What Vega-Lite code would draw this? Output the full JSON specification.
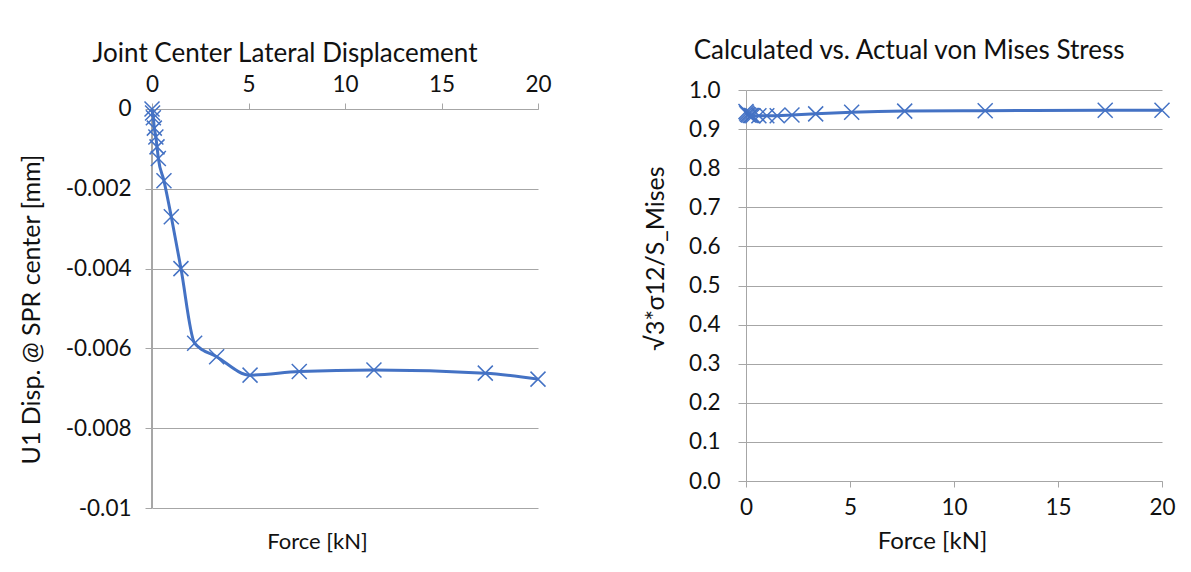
{
  "$schema": "https://vega.github.io/schema/vega-lite/v6.json",
  "background": "white",
  "padding": {"left": 19, "top": 38, "right": 0, "bottom": 0},
  "spacing": 91,
  "config": {
    "font": "Lato",
    "view": {"stroke": null},
    "axis": {
      "labelFont": "Lato", "titleFont": "Lato",
      "labelColor": "#111", "titleColor": "#111",
      "labelFontWeight": "normal", "titleFontWeight": "normal",
      "domainColor": "#a6a6a6", "tickColor": "#a6a6a6", "gridColor": "#a6a6a6",
      "labelFontSize": 22.5, "titleFontSize": 22
    },
    "title": {"font": "Lato", "fontWeight": "normal", "color": "#111", "fontSize": 26, "frame": "bounds", "anchor": "middle"}
  },
  "data": {"values": [
    {"force": 0, "u1": 0, "ratio": 0.945},
    {"force": 0.03, "u1": -0.0001, "ratio": 0.941},
    {"force": 0.07, "u1": -0.00022, "ratio": 0.938},
    {"force": 0.12, "u1": -0.00048, "ratio": 0.936},
    {"force": 0.2, "u1": -0.0007, "ratio": 0.935},
    {"force": 0.26, "u1": -0.00095, "ratio": 0.935},
    {"force": 0.33, "u1": -0.00124, "ratio": 0.934},
    {"force": 0.62, "u1": -0.0018, "ratio": 0.934},
    {"force": 1.0, "u1": -0.0027, "ratio": 0.934},
    {"force": 1.5, "u1": -0.004, "ratio": 0.934},
    {"force": 2.21, "u1": -0.00587, "ratio": 0.936},
    {"force": 3.35, "u1": -0.00621, "ratio": 0.939},
    {"force": 5.08, "u1": -0.00667, "ratio": 0.943},
    {"force": 7.63, "u1": -0.00658, "ratio": 0.946},
    {"force": 11.5, "u1": -0.00654, "ratio": 0.947},
    {"force": 17.27, "u1": -0.00662, "ratio": 0.948},
    {"force": 20, "u1": -0.00677, "ratio": 0.948}
  ]},
  "hconcat": [
    {
      "width": 386,
      "height": 418,
      "title": {"text": "Joint Center Lateral Displacement", "offset": 6},
      "encoding": {
        "y": {
          "field": "u1", "type": "quantitative",
          "scale": {"domain": [-0.01, 0.000476], "nice": false, "zero": false},
          "axis": {
            "values": [0, -0.002, -0.004, -0.006, -0.008, -0.01],
            "labelExpr": "'' + datum.value",
            "grid": true, "domain": false, "tickSize": 7, "labelPadding": 14,
            "minExtent": 90, "maxExtent": 90,
            "title": "U1 Disp. @ SPR center [mm]", "titleFontSize": 25, "titlePadding": 18, "titleY": 219
          }
        }
      },
      "layer": [
        {
          "mark": {"type": "rule", "color": "#a6a6a6", "strokeWidth": 1},
          "encoding": {
            "x": {"datum": 0, "type": "quantitative", "axis": null},
            "y": {"datum": 0, "type": "quantitative"},
            "y2": {"datum": -0.01}
          }
        },
        {
          "mark": {"type": "line", "color": "#4472C4", "strokeWidth": 3, "interpolate": "monotone"},
          "encoding": {
            "x": {
              "field": "force", "type": "quantitative",
              "scale": {"domain": [0, 20], "nice": false},
              "axis": {"orient": "top", "offset": -19, "values": [0, 5, 10, 15, 20], "grid": false, "tickSize": 6, "labelPadding": 7, "labelFlush": false, "title": null}
            }
          }
        },
        {
          "mark": {"type": "point", "shape": "M-1,-1L1,1M-1,1L1,-1", "size": 225, "filled": false, "color": "#4472C4", "strokeWidth": 1.5, "opacity": 1},
          "encoding": {
            "x": {"field": "force", "type": "quantitative", "axis": null}
          }
        },
        {
          "mark": {"type": "point", "opacity": 0},
          "encoding": {
            "x": {
              "field": "force", "type": "quantitative",
              "axis": {"orient": "bottom", "labels": false, "ticks": false, "domain": false, "grid": false, "title": "Force [kN]", "titleFontSize": 22, "titlePadding": 23, "titleX": 165}
            }
          }
        }
      ],
      "resolve": {"axis": {"x": "independent"}}
    },
    {
      "width": 416,
      "height": 391,
      "title": {"text": "Calculated vs. Actual von Mises Stress", "offset": 15},
      "encoding": {
        "x": {
          "field": "force", "type": "quantitative",
          "scale": {"domain": [0, 20], "nice": false},
          "axis": {"values": [0, 5, 10, 15, 20], "grid": false, "tickSize": 6, "labelPadding": 9, "labelFlush": false, "title": "Force [kN]", "titleFontSize": 24, "titlePadding": 11, "titleX": 186}
        },
        "y": {
          "field": "ratio", "type": "quantitative",
          "scale": {"domain": [0, 1], "nice": false},
          "axis": {
            "values": [0, 0.1, 0.2, 0.3, 0.4, 0.5, 0.6, 0.7, 0.8, 0.9, 1.0],
            "format": ".1f", "grid": true, "tickSize": 8, "labelPadding": 18,
            "minExtent": 61, "maxExtent": 61,
            "title": "√3*σ12/S_Mises", "titleFontSize": 25, "titlePadding": 17, "titleY": 168
          }
        }
      },
      "layer": [
        {"mark": {"type": "line", "color": "#4472C4", "strokeWidth": 3, "interpolate": "monotone"}},
        {"mark": {"type": "point", "shape": "M-1,-1L1,1M-1,1L1,-1", "size": 225, "filled": false, "color": "#4472C4", "strokeWidth": 1.5, "opacity": 1}}
      ]
    }
  ]
}
